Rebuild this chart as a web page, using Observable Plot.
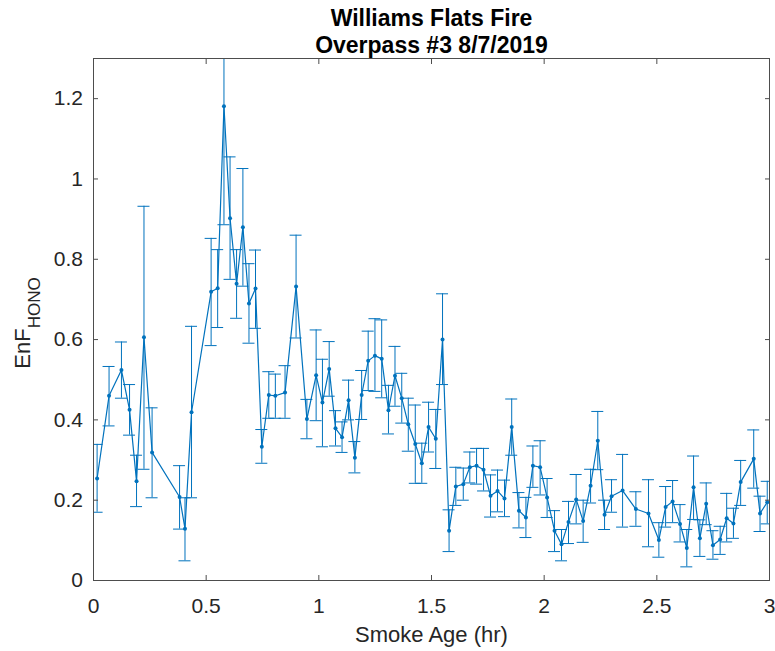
<!DOCTYPE html>
<html><head><meta charset="utf-8">
<script src="https://cdn.jsdelivr.net/npm/d3@7"></script>
<script src="https://cdn.jsdelivr.net/npm/@observablehq/plot@0.6"></script>
<style>body{margin:0;background:#fff}</style>
</head><body><div id="chart"></div>
<script>
const smokeAge = [0.016,0.069,0.124,0.160,0.191,0.224,0.260,0.382,0.406,0.435,0.522,0.551,0.579,0.606,0.635,0.663,0.690,0.719,0.747,0.778,0.807,0.850,0.899,0.947,0.988,1.016,1.046,1.074,1.103,1.132,1.160,1.190,1.219,1.249,1.279,1.309,1.338,1.368,1.397,1.428,1.457,1.487,1.519,1.549,1.578,1.608,1.641,1.670,1.700,1.731,1.762,1.793,1.824,1.856,1.888,1.919,1.950,1.982,2.013,2.046,2.077,2.108,2.142,2.173,2.206,2.238,2.268,2.299,2.348,2.407,2.463,2.509,2.539,2.570,2.603,2.633,2.663,2.691,2.719,2.749,2.781,2.810,2.840,2.872,2.930,2.958,2.990];
const enfHono = [0.254,0.460,0.524,0.425,0.247,0.606,0.319,0.208,0.129,0.419,0.719,0.728,1.181,0.902,0.739,0.880,0.690,0.727,0.333,0.462,0.460,0.468,0.732,0.402,0.511,0.443,0.527,0.379,0.357,0.449,0.306,0.462,0.547,0.560,0.552,0.424,0.510,0.454,0.389,0.340,0.292,0.382,0.353,0.600,0.124,0.234,0.240,0.282,0.286,0.276,0.211,0.223,0.204,0.382,0.174,0.157,0.286,0.282,0.207,0.124,0.090,0.146,0.202,0.148,0.236,0.348,0.164,0.210,0.224,0.178,0.167,0.101,0.183,0.197,0.141,0.081,0.232,0.105,0.191,0.088,0.102,0.155,0.142,0.245,0.303,0.167,0.195];
const errLow = [0.170,0.385,0.454,0.362,0.184,0.277,0.206,0.128,0.049,0.206,0.585,0.630,0.886,0.750,0.653,0.733,0.591,0.628,0.292,0.404,0.404,0.404,0.604,0.353,0.398,0.333,0.459,0.335,0.319,0.400,0.268,0.401,0.473,0.471,0.455,0.365,0.434,0.392,0.322,0.242,0.242,0.320,0.279,0.488,0.072,0.187,0.200,0.243,0.240,0.223,0.158,0.171,0.159,0.312,0.131,0.107,0.232,0.213,0.157,0.072,0.049,0.092,0.141,0.095,0.193,0.276,0.127,0.170,0.133,0.135,0.084,0.058,0.133,0.144,0.096,0.034,0.152,0.060,0.139,0.053,0.065,0.096,0.105,0.187,0.230,0.122,0.141];
const errHigh = [0.339,0.533,0.594,0.488,0.312,0.932,0.430,0.286,0.206,0.633,0.852,0.824,1.450,1.055,0.824,1.026,0.789,0.823,0.376,0.520,0.514,0.535,0.860,0.451,0.624,0.551,0.595,0.423,0.395,0.499,0.346,0.523,0.621,0.652,0.649,0.486,0.583,0.516,0.454,0.437,0.342,0.444,0.426,0.714,0.176,0.282,0.280,0.320,0.329,0.329,0.263,0.275,0.250,0.452,0.219,0.207,0.335,0.348,0.254,0.174,0.127,0.197,0.264,0.200,0.277,0.421,0.200,0.251,0.314,0.221,0.251,0.144,0.234,0.249,0.189,0.127,0.310,0.151,0.243,0.124,0.135,0.217,0.180,0.299,0.375,0.210,0.247];
const xTicks = [0, 0.5, 1, 1.5, 2, 2.5, 3];
const yTicks = [0, 0.2, 0.4, 0.6, 0.8, 1, 1.2];
const titleLine1 = "Williams Flats Fire";
const titleLine2 = "Overpass #3 8/7/2019";
const xLabel = "Smoke Age (hr)";
const yLabelMain = "EnF";
const yLabelSub = "HONO";

const data = smokeAge.map((x, i) => ({x, y: enfHono[i], lo: errLow[i], hi: errHigh[i]}));
const blue = "#0072BD";
const axisGray = "#4d4d4d";
const fmt = d => String(d);

const plot = Plot.plot({
  width: 775, height: 651,
  marginLeft: 93, marginRight: 6, marginTop: 58, marginBottom: 71,
  style: {fontFamily: "'Liberation Sans', Arial, sans-serif", fontSize: "21px", color: "#262626", background: "#fff", overflow: "visible"},
  x: {domain: [0, 3], label: null},
  y: {domain: [0, 1.3], label: null},
  marks: [
    Plot.ruleX(data, {x: "x", y1: "lo", y2: "hi", stroke: blue, strokeWidth: 1, clip: true}),
    Plot.ruleY(data, {y: "lo", x1: "x", x2: "x", insetLeft: -6, insetRight: -6, stroke: blue, strokeWidth: 1, clip: true}),
    Plot.ruleY(data, {y: "hi", x1: "x", x2: "x", insetLeft: -6, insetRight: -6, stroke: blue, strokeWidth: 1, clip: true}),
    Plot.line(data, {x: "x", y: "y", stroke: blue, strokeWidth: 1.2}),
    Plot.dot(data, {x: "x", y: "y", r: 2, fill: blue, stroke: null}),
    Plot.frame({stroke: axisGray}),
    Plot.axisX(xTicks, {anchor: "bottom", tickSize: -5, tickPadding: 23, tickFormat: fmt, label: null, stroke: axisGray}),
    Plot.axisX(xTicks, {anchor: "top", tickSize: -5, tickFormat: () => "", label: null, stroke: axisGray}),
    Plot.axisY(yTicks, {anchor: "left", tickSize: -5, tickPadding: 15.5, tickFormat: fmt, label: null, stroke: axisGray}),
    Plot.axisY(yTicks, {anchor: "right", tickSize: -5, tickFormat: () => "", label: null, stroke: axisGray}),
    Plot.text([titleLine1], {frameAnchor: "top", text: d => d, lineAnchor: "bottom", dy: -33, fontSize: 23, fontWeight: "bold", fill: "#000"}),
    Plot.text([titleLine2], {frameAnchor: "top", text: d => d, lineAnchor: "bottom", dy: -6, fontSize: 23, fontWeight: "bold", fill: "#000"}),
    Plot.text([xLabel], {frameAnchor: "bottom", text: d => d, lineAnchor: "bottom", dy: 61, fontSize: 22, fill: "#262626"})
  ]
});

const svg = d3.select(plot);
const t = svg.append("text")
  .attr("transform", "translate(30,323) rotate(-90)")
  .attr("text-anchor", "middle")
  .attr("font-size", 22)
  .attr("fill", "#262626");
t.append("tspan").text(yLabelMain);
t.append("tspan").attr("font-size", 17).attr("dy", 10).text(yLabelSub);

document.getElementById("chart").appendChild(plot);
</script>
</body></html>
